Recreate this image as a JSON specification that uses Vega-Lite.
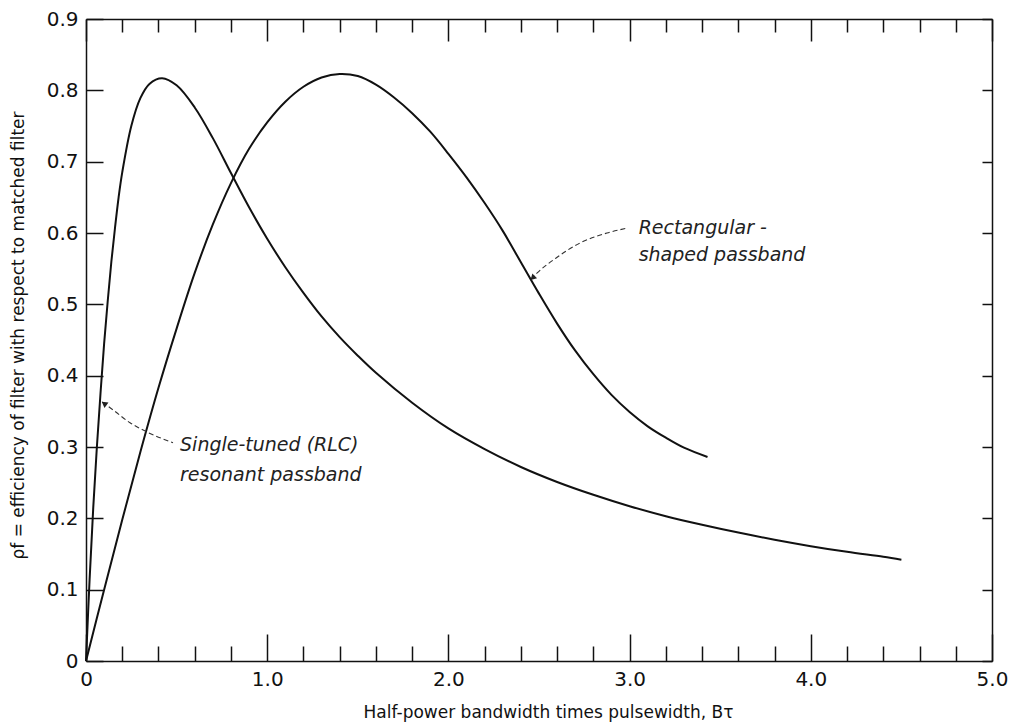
{
  "$schema": "https://vega.github.io/schema/vega-lite/v6.json",
  "width": 906,
  "height": 642,
  "autosize": {"type": "none"},
  "padding": {"left": 86, "top": 19, "right": 24, "bottom": 61},
  "background": "white",
  "config": {
    "view": {"stroke": null},
    "axis": {
      "domainColor": "#111", "tickColor": "#111", "labelColor": "#111", "titleColor": "#111",
      "labelFont": "DejaVu Sans", "titleFont": "DejaVu Sans", "domainWidth": 1.5, "tickWidth": 1.5,
      "grid": false, "labelFontWeight": "normal", "titleFontWeight": "normal"
    }
  },
  "datasets": {
    "rlc": [
      {"x": 0, "y": 0}, {"x": 0.02, "y": 0.115}, {"x": 0.04, "y": 0.215}, {"x": 0.06, "y": 0.3},
      {"x": 0.08, "y": 0.375}, {"x": 0.1, "y": 0.445}, {"x": 0.12, "y": 0.505}, {"x": 0.14, "y": 0.56},
      {"x": 0.16, "y": 0.607}, {"x": 0.18, "y": 0.65}, {"x": 0.2, "y": 0.685}, {"x": 0.25, "y": 0.75},
      {"x": 0.3, "y": 0.789}, {"x": 0.35, "y": 0.809}, {"x": 0.42, "y": 0.817},
      {"x": 0.5, "y": 0.807}, {"x": 0.6, "y": 0.776}, {"x": 0.7, "y": 0.733}, {"x": 0.8, "y": 0.684},
      {"x": 0.9, "y": 0.636}, {"x": 1.0, "y": 0.592}, {"x": 1.1, "y": 0.552}, {"x": 1.2, "y": 0.516},
      {"x": 1.3, "y": 0.483}, {"x": 1.4, "y": 0.454}, {"x": 1.5, "y": 0.428}, {"x": 1.6, "y": 0.404},
      {"x": 1.8, "y": 0.362}, {"x": 2.0, "y": 0.326}, {"x": 2.2, "y": 0.297}, {"x": 2.4, "y": 0.272},
      {"x": 2.6, "y": 0.251}, {"x": 2.8, "y": 0.233}, {"x": 3.0, "y": 0.217}, {"x": 3.2, "y": 0.203},
      {"x": 3.4, "y": 0.191}, {"x": 3.6, "y": 0.18}, {"x": 3.8, "y": 0.17}, {"x": 4.0, "y": 0.161},
      {"x": 4.2, "y": 0.153}, {"x": 4.4, "y": 0.146}, {"x": 4.5, "y": 0.142}
    ],
    "rect": [
      {"x": 0, "y": 0}, {"x": 0.1, "y": 0.1}, {"x": 0.2, "y": 0.198}, {"x": 0.3, "y": 0.293},
      {"x": 0.4, "y": 0.383}, {"x": 0.5, "y": 0.466}, {"x": 0.6, "y": 0.544}, {"x": 0.7, "y": 0.612},
      {"x": 0.8, "y": 0.67}, {"x": 0.9, "y": 0.718}, {"x": 1.0, "y": 0.755}, {"x": 1.1, "y": 0.784},
      {"x": 1.2, "y": 0.805}, {"x": 1.3, "y": 0.818}, {"x": 1.4, "y": 0.823}, {"x": 1.5, "y": 0.82},
      {"x": 1.6, "y": 0.808}, {"x": 1.7, "y": 0.79}, {"x": 1.8, "y": 0.768}, {"x": 1.9, "y": 0.742},
      {"x": 2.0, "y": 0.711}, {"x": 2.1, "y": 0.678}, {"x": 2.2, "y": 0.642}, {"x": 2.3, "y": 0.603},
      {"x": 2.4, "y": 0.559}, {"x": 2.5, "y": 0.515}, {"x": 2.6, "y": 0.473}, {"x": 2.7, "y": 0.435},
      {"x": 2.8, "y": 0.402}, {"x": 2.9, "y": 0.373}, {"x": 3.0, "y": 0.349}, {"x": 3.1, "y": 0.329},
      {"x": 3.2, "y": 0.313}, {"x": 3.3, "y": 0.299}, {"x": 3.43, "y": 0.286}
    ],
    "arrows": [
      {"g": "rect", "x": 2.99, "y": 0.607}, {"g": "rect", "x": 2.875, "y": 0.6}, {"g": "rect", "x": 2.726, "y": 0.586},
      {"g": "rect", "x": 2.6, "y": 0.566}, {"g": "rect", "x": 2.49, "y": 0.544}, {"g": "rect", "x": 2.455, "y": 0.535},
      {"g": "rlc", "x": 0.48, "y": 0.306}, {"g": "rlc", "x": 0.337, "y": 0.321}, {"g": "rlc", "x": 0.243, "y": 0.334},
      {"g": "rlc", "x": 0.149, "y": 0.352}, {"g": "rlc", "x": 0.09, "y": 0.363}
    ],
    "head1": [{"x": 0.1, "y": 0.361}],
    "head2": [{"x": 2.465, "y": 0.537}],
    "notes": [
      {"x": 3.05, "y": 0.607, "t": "Rectangular -"},
      {"x": 3.05, "y": 0.569, "t": "shaped passband"},
      {"x": 0.519, "y": 0.303, "t": "Single-tuned (RLC)"},
      {"x": 0.519, "y": 0.261, "t": "resonant passband"}
    ]
  },
  "layer": [
    {
      "encoding": {
        "x": {
          "field": "x", "type": "quantitative",
          "scale": {"domain": [0, 5], "nice": false, "zero": false},
          "axis": {
            "orient": "bottom",
            "values": [0, 0.2, 0.4, 0.6, 0.8, 1, 1.2, 1.4, 1.6, 1.8, 2, 2.2, 2.4, 2.6, 2.8, 3, 3.2, 3.4, 3.6, 3.8, 4, 4.2, 4.4, 4.6, 4.8, 5],
            "labelExpr": "abs(datum.value - round(datum.value)) < 0.001 ? (datum.value == 0 ? '0' : format(datum.value, '.1f')) : ''",
            "tickSize": {"condition": {"test": "abs(datum.value - round(datum.value)) < 0.001", "value": -27}, "value": -15},
            "labelPadding": 35,
            "labelFontSize": 20,
            "labelFlush": false,
            "labelOverlap": false,
            "title": "Half-power bandwidth times pulsewidth, Bτ",
            "titleFontSize": 17,
            "titleX": 462,
            "titleY": 51,
            "titleAlign": "center",
            "titleBaseline": "middle"
          }
        },
        "y": {
          "field": "y", "type": "quantitative",
          "scale": {"domain": [0, 0.9], "nice": false, "zero": false},
          "axis": {
            "orient": "left",
            "values": [0, 0.1, 0.2, 0.3, 0.4, 0.5, 0.6, 0.7, 0.8, 0.9],
            "labelExpr": "datum.value == 0 ? '0' : format(datum.value, '.1f')",
            "tickSize": -17,
            "labelPadding": 25,
            "labelFontSize": 20,
            "labelFlush": false,
            "labelOverlap": false,
            "title": "ρf = efficiency of filter with respect to matched filter",
            "titleFontSize": 17,
            "titleAngle": -90,
            "titleX": -68,
            "titleY": 316,
            "titleAlign": "center",
            "titleBaseline": "middle"
          }
        }
      },
      "layer": [
        {"data": {"name": "rlc"}, "mark": {"type": "line", "color": "#111", "strokeWidth": 2, "interpolate": "catmull-rom"}},
        {"data": {"name": "rect"}, "mark": {"type": "line", "color": "#111", "strokeWidth": 2, "interpolate": "catmull-rom"}},
        {
          "data": {"name": "arrows"},
          "mark": {"type": "line", "color": "#333", "strokeWidth": 1.1, "strokeDash": [5, 3], "interpolate": "monotone"},
          "encoding": {"detail": {"field": "g", "type": "nominal"}}
        },
        {"data": {"name": "head1"}, "mark": {"type": "point", "shape": "triangle-right", "filled": true, "color": "#222", "size": 45, "angle": 216, "opacity": 1}},
        {"data": {"name": "head2"}, "mark": {"type": "point", "shape": "triangle-right", "filled": true, "color": "#222", "size": 45, "angle": 135, "opacity": 1}},
        {
          "data": {"name": "notes"},
          "mark": {"type": "text", "align": "left", "baseline": "middle", "font": "DejaVu Sans", "fontStyle": "italic", "fontSize": 19, "color": "#222"},
          "encoding": {"text": {"field": "t", "type": "nominal"}}
        }
      ]
    },
    {
      "data": {"name": "head1"},
      "mark": {"type": "point", "opacity": 0},
      "encoding": {
        "x": {
          "field": "x", "type": "quantitative",
          "scale": {"domain": [0, 5], "nice": false, "zero": false},
          "axis": {
            "orient": "top",
            "values": [0, 0.2, 0.4, 0.6, 0.8, 1, 1.2, 1.4, 1.6, 1.8, 2, 2.2, 2.4, 2.6, 2.8, 3, 3.2, 3.4, 3.6, 3.8, 4, 4.2, 4.4, 4.6, 4.8, 5],
            "labels": false,
            "tickSize": {"condition": {"test": "abs(datum.value - round(datum.value)) < 0.001", "value": -22}, "value": -13},
            "title": null
          }
        },
        "y": {
          "field": "y", "type": "quantitative",
          "scale": {"domain": [0, 0.9], "nice": false, "zero": false},
          "axis": {
            "orient": "right",
            "values": [0, 0.1, 0.2, 0.3, 0.4, 0.5, 0.6, 0.7, 0.8, 0.9],
            "labels": false,
            "tickSize": -10,
            "title": null
          }
        }
      }
    }
  ],
  "resolve": {"axis": {"x": "independent", "y": "independent"}}
}
